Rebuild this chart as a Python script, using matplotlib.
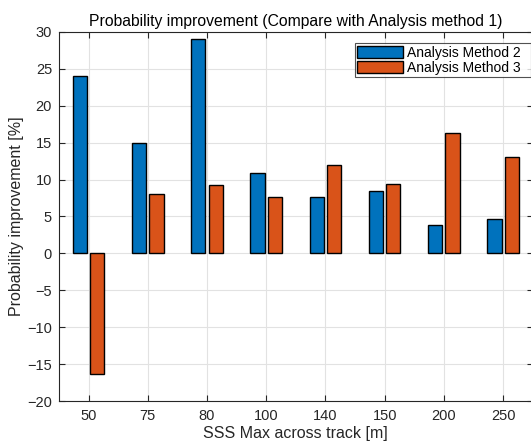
import numpy as np
import matplotlib
matplotlib.use("Agg")
import matplotlib.pyplot as plt

# probability improvement relative to analysis method 1
categories = ["50", "75", "80", "100", "140", "150", "200", "250"]
method2 = [24.0, 15.0, 29.0, 10.9, 7.6, 8.4, 3.8, 4.7]
method3 = [-16.3, 8.1, 9.2, 7.6, 12.0, 9.4, 16.3, 13.0]

plt.rcParams['font.family'] = ['Liberation Sans', 'DejaVu Sans']

fig = plt.figure(figsize=(5.31, 4.43), dpi=100)
fig.set_facecolor('w')
ax = fig.add_axes([0.1111, 0.0948, 0.892, 0.833])

x = np.arange(1, len(categories) + 1)
off = 0.146
w = 0.24
ax.bar(x - off, method2, w, color='#0072BD', edgecolor='k', linewidth=1.0,
       label='Analysis Method 2  ', zorder=3)
ax.bar(x + off, method3, w, color='#D95319', edgecolor='k', linewidth=1.0,
       label='Analysis Method 3  ', zorder=3)

ax.set_xlim(0.5, 8.5)
ax.set_ylim(-20, 30)
ax.set_xticks(x)
ax.set_xticklabels(categories)
ax.set_yticks(np.arange(-20, 31, 5))
ax.grid(True, color='#e2e2e2', linewidth=0.8, zorder=0)
ax.set_axisbelow(True)

ax.tick_params(direction='in', top=True, right=True, length=4, width=0.8,
               colors='#262626', labelsize=10.5)
ax.tick_params(axis='y', pad=5)
ax.tick_params(axis='x', pad=6)
for sp in ax.spines.values():
    sp.set_color('#262626')
    sp.set_linewidth(0.8)

ax.set_title('Probability improvement (Compare with Analysis method 1)',
             fontsize=11.3, color='k', pad=4)
ax.set_xlabel('SSS Max across track [m]', fontsize=11.5, color='#262626', labelpad=2)
ax.set_ylabel('Probability improvement [%]', fontsize=11.5, color='#262626', labelpad=2)

leg = ax.legend(loc='upper right', bbox_to_anchor=(0.9965, 0.97), fontsize=10,
                frameon=True, fancybox=False, edgecolor='#262626',
                handlelength=3.3, handleheight=0.95, handletextpad=0.25,
                borderpad=0.2, labelspacing=0.05, borderaxespad=0.0)
leg.get_frame().set_linewidth(0.8)

fig.savefig('out.png', dpi=100)
